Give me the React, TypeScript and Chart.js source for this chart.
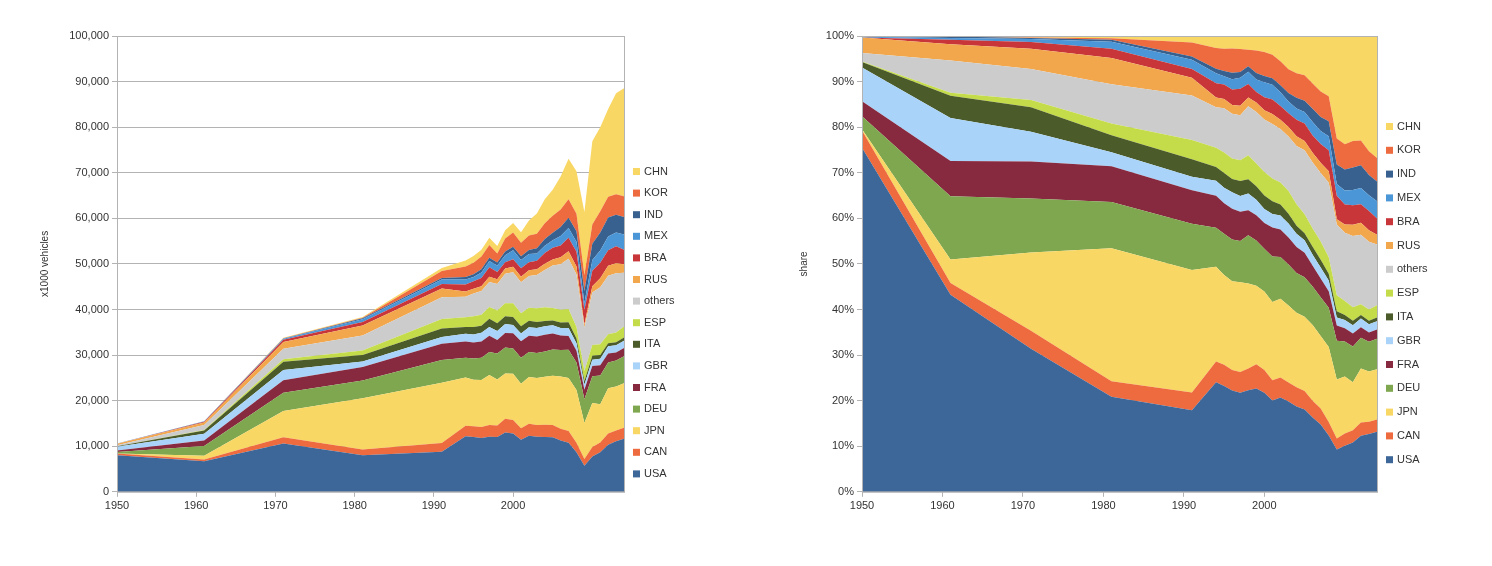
import React, { useEffect, useRef } from "react";
import { Chart, registerables } from "chart.js";
Chart.register(...registerables);

const years = [1950,1961,1971,1981,1991,1994,1995,1996,1997,1998,1999,2000,2001,2002,2003,2004,2005,2006,2007,2008,2009,2010,2011,2012,2013,2014];
const USA = [8000,6700,10600,8000,8800,12200,12000,11800,12100,12000,13000,12800,11400,12300,12100,12000,11950,11260,10780,8700,5700,7760,8660,10330,11070,11660];
const CAN = [400,400,1350,1300,1900,2300,2400,2400,2550,2570,3050,2960,2530,2630,2550,2710,2690,2570,2580,2080,1490,2070,2140,2460,2380,2390];
const JPN = [30,800,5800,11200,13200,10550,10200,10350,10980,10050,9900,10140,9780,10260,10290,10510,10800,11480,11600,11560,7930,9630,8400,9940,9630,9770];
const DEU = [300,2150,4000,3900,5000,4350,4670,4840,5020,5730,5690,5530,5690,5470,5510,5570,5760,5820,6210,6040,5210,5910,6310,5650,5720,5910];
const FRA = [350,1200,2750,3000,3600,3560,3470,3590,3580,2950,3180,3350,3630,3600,3620,3670,3550,3170,3020,2570,2050,2230,2240,1970,1740,1820];
const GBR = [780,1460,2200,1180,1450,1690,1760,1920,1940,1980,1970,1810,1690,1820,1850,1860,1800,1650,1750,1650,1090,1390,1460,1580,1600,1600];
const ITA = [130,760,1820,1430,1880,1530,1670,1540,1820,1690,1700,1740,1580,1430,1320,1140,1040,1210,1280,1020,840,840,790,670,660,700];
const ESP = [10,100,540,990,2080,2140,2330,2410,2560,2830,2850,3030,2850,2860,3030,3010,2750,2780,2890,2540,2170,2390,2370,1980,2160,2400];
const others = [200,1100,2300,3300,4800,4500,5000,5200,5500,5800,6500,6800,6800,7000,7300,8200,9300,10000,11000,11500,9500,11500,12500,12800,13000,11800];
const RUS = [360,550,1500,2200,1900,1100,1070,1030,1150,1030,1170,1200,1250,1220,1280,1390,1350,1500,1660,1790,720,1400,1990,2230,2180,1890];
const BRA = [0,150,500,780,960,1580,1630,1800,2070,1590,1350,1680,1820,1790,1830,2320,2530,2610,2980,3220,3180,3380,3410,3400,3710,3150];
const MEX = [20,60,210,600,990,1100,930,1210,1360,1450,1550,1940,1850,1800,1580,1580,1680,2050,2100,2170,1560,2340,2680,3000,3050,3370];
const IND = [15,50,90,170,360,500,600,750,700,650,820,800,810,890,1160,1510,1640,2020,2250,2330,2640,3560,3930,4170,3880,3840];
const KOR = [0,0,30,130,1500,2310,2530,2810,2820,1950,2840,3110,2950,3150,3180,3470,3700,3840,4090,3830,3510,4270,4660,4560,4520,4520];
const CHN = [0,20,110,180,700,1350,1450,1470,1580,1630,1830,2070,2330,3290,4440,5230,5710,7190,8880,9300,13790,18260,18420,19270,22120,23720];

const series: [string, number[], string][] = [
  ["USA", USA, "#3d6699"], ["CAN", CAN, "#ee6b3f"], ["JPN", JPN, "#f9d764"],
  ["DEU", DEU, "#7ea74f"], ["FRA", FRA, "#87293f"], ["GBR", GBR, "#a9d3f8"],
  ["ITA", ITA, "#4c5b2a"], ["ESP", ESP, "#c4dc49"], ["others", others, "#cccccc"],
  ["RUS", RUS, "#f3a74d"], ["BRA", BRA, "#c9363a"], ["MEX", MEX, "#4b96d6"],
  ["IND", IND, "#39618f"], ["KOR", KOR, "#ee6b3f"], ["CHN", CHN, "#f9d764"],
];

const FONT = "'Liberation Sans', Arial, sans-serif";

function makeChart(canvas: HTMLCanvasElement, share: boolean) {
  const totals = years.map((_, i) => series.reduce((s, d) => s + d[1][i], 0));
  const datasets = series.map(([label, vals, color], k) => ({
    label,
    data: years.map((y, i) => ({ x: y, y: share ? (vals[i] / totals[i]) * 100 : vals[i] })),
    backgroundColor: color,
    borderColor: color,
    borderWidth: 0,
    pointRadius: 0,
    tension: 0,
    fill: k === 0 ? "origin" : "-1",
  }));
  const legendCfg = share ? { start: 126, step: 23.8 } : { start: 171, step: 21.6 };
  const frame = {
    id: "frame",
    afterDatasetsDraw(c: any) {
      const a = c.chartArea;
      const ctx = c.ctx;
      ctx.save();
      ctx.strokeStyle = "#b3b3b3";
      ctx.lineWidth = 1;
      ctx.strokeRect(a.left + 0.5, a.top + 0.5, a.right - a.left, a.bottom - a.top);
      ctx.restore();
    },
    afterDraw(c: any) {
      const a = c.chartArea;
      const ctx = c.ctx;
      ctx.save();
      ctx.font = "11px " + FONT;
      ctx.textBaseline = "middle";
      const items = [...series].reverse();
      items.forEach(([label, , color], i) => {
        const y = legendCfg.start + i * legendCfg.step;
        ctx.fillStyle = color;
        ctx.fillRect(a.right + 9, y - 3, 7, 7);
        ctx.fillStyle = "#333";
        ctx.fillText(label, a.right + 20, y + 0.5);
      });
      ctx.restore();
    },
  };
  return new Chart(canvas, {
    type: "line",
    data: { datasets: datasets as any },
    plugins: [frame],
    options: {
      animation: false,
      responsive: false,
      layout: { padding: { left: share ? 48 : 35, right: share ? 115 : 122, top: 36, bottom: 50 } },
      plugins: { legend: { display: false }, tooltip: { enabled: false } },
      scales: {
        x: {
          type: "linear", min: 1950, max: 2014,
          afterBuildTicks: (s: any) => { s.ticks = s.ticks.filter((t: any) => t.value % 10 === 0); },
          ticks: { stepSize: 10, color: "#333", font: { family: FONT, size: 11 }, callback: (v: any) => String(v) },
          grid: { display: false, drawOnChartArea: false, drawTicks: true, tickLength: 5, color: "#b3b3b3", display: true } as any,
          border: { color: "#b3b3b3" },
        },
        y: {
          stacked: true, min: 0, max: 100,
          ...(share ? {} : { max: 100000 }),
          afterFit: (s: any) => { s.width = share ? 68 : 82; },
          ticks: {
            stepSize: share ? 10 : 10000, color: "#333", font: { family: FONT, size: 11 },
            callback: (v: any) => share ? v + "%" : Number(v).toLocaleString("en-US"),
          },
          grid: { color: "#b3b3b3", tickLength: 5 },
          border: { color: "#b3b3b3" },
          title: { display: true, text: share ? "share" : "x1000 vehicles", color: "#333", font: { family: FONT, size: 10 } },
        },
      },
    } as any,
  });
}

function Panel({ share, left }: { share: boolean; left: number }) {
  const ref = useRef<HTMLCanvasElement>(null);
  useEffect(() => {
    const c = makeChart(ref.current!, share);
    return () => c.destroy();
  }, [share]);
  return <canvas ref={ref} width={746} height={566} style={{ position: "absolute", left, top: 0, width: 746, height: 566 }} />;
}

export default function App() {
  return (
    <div style={{ position: "absolute", left: 0, top: 0, width: 1492, height: 566, background: "#fff" }}>
      <Panel share={false} left={0} />
      <Panel share={true} left={746} />
    </div>
  );
}
